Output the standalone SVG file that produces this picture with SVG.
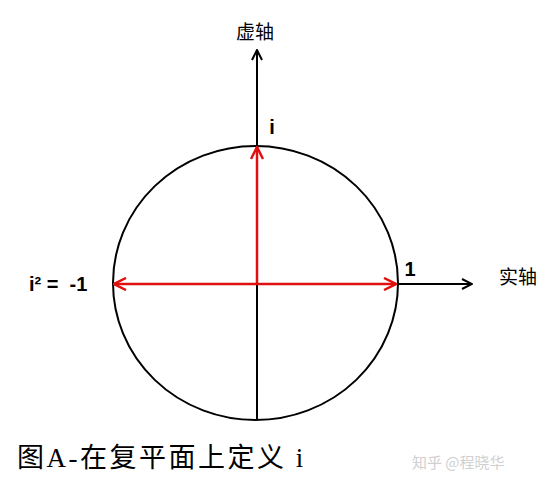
<svg xmlns="http://www.w3.org/2000/svg" width="557" height="486" viewBox="0 0 557 486">
<style>
.ax{stroke:#000;stroke-width:2;fill:none}
.red{stroke:#e01010;stroke-width:2.5;fill:none}
.lbl{font-family:"Liberation Sans",Arial,sans-serif;font-weight:bold;fill:#000;white-space:pre}
.cjk{font-family:"Noto Sans CJK SC","Liberation Serif",serif;fill:#000}
.cap{font-family:"Liberation Serif","Noto Sans CJK SC",serif;fill:#000;white-space:pre}
</style>
<defs>
<marker id="ab" viewBox="0 0 12 12" refX="11" refY="6" markerWidth="12" markerHeight="12" markerUnits="userSpaceOnUse" orient="auto">
<path d="M1,1 L11,6 L1,11" fill="none" stroke="#000" stroke-width="2"/>
</marker>
<marker id="ar" viewBox="0 0 14 14" refX="13" refY="7" markerWidth="14" markerHeight="14" markerUnits="userSpaceOnUse" orient="auto">
<path d="M1,1 L13,7 L1,13" fill="none" stroke="#e01010" stroke-width="2.500"/>
</marker>
</defs>
<rect width="557" height="486" fill="#fff"/>
<g id="circle"><ellipse cx="255.500" cy="283" rx="142.500" ry="137" class="ax"/></g>
<g id="connectors">
<line x1="257" y1="420" x2="257" y2="50" class="ax" marker-end="url(#ab)"/>
<line x1="257" y1="284" x2="472" y2="284" class="ax" marker-end="url(#ab)"/>
<line x1="257" y1="284" x2="396" y2="284" class="red" marker-end="url(#ar)"/>
<line x1="257" y1="284" x2="114" y2="284" class="red" marker-end="url(#ar)"/>
<line x1="257" y1="284" x2="257" y2="147" class="red" marker-end="url(#ar)"/>
</g>
<g id="labels">
<text x="255" y="39" class="cjk" font-size="19" text-anchor="middle">虚轴</text>
<text x="272" y="134" class="lbl" font-size="20" text-anchor="middle">i</text>
<text x="29" y="291" class="lbl" font-size="20">i² =  -1</text>
<text x="410" y="276" class="lbl" font-size="20" text-anchor="middle">1</text>
<text x="518" y="284" class="cjk" font-size="19" text-anchor="middle">实轴</text>
</g>
<g id="caption">
<text x="17" y="467" class="cap" font-size="27" letter-spacing="2.5">图A-在复平面上定义 i</text>
<text x="412" y="468" font-family="Noto Sans CJK SC,sans-serif" font-size="15" fill="#d0d0d0">知乎 @程晓华</text>
</g>
</svg>
